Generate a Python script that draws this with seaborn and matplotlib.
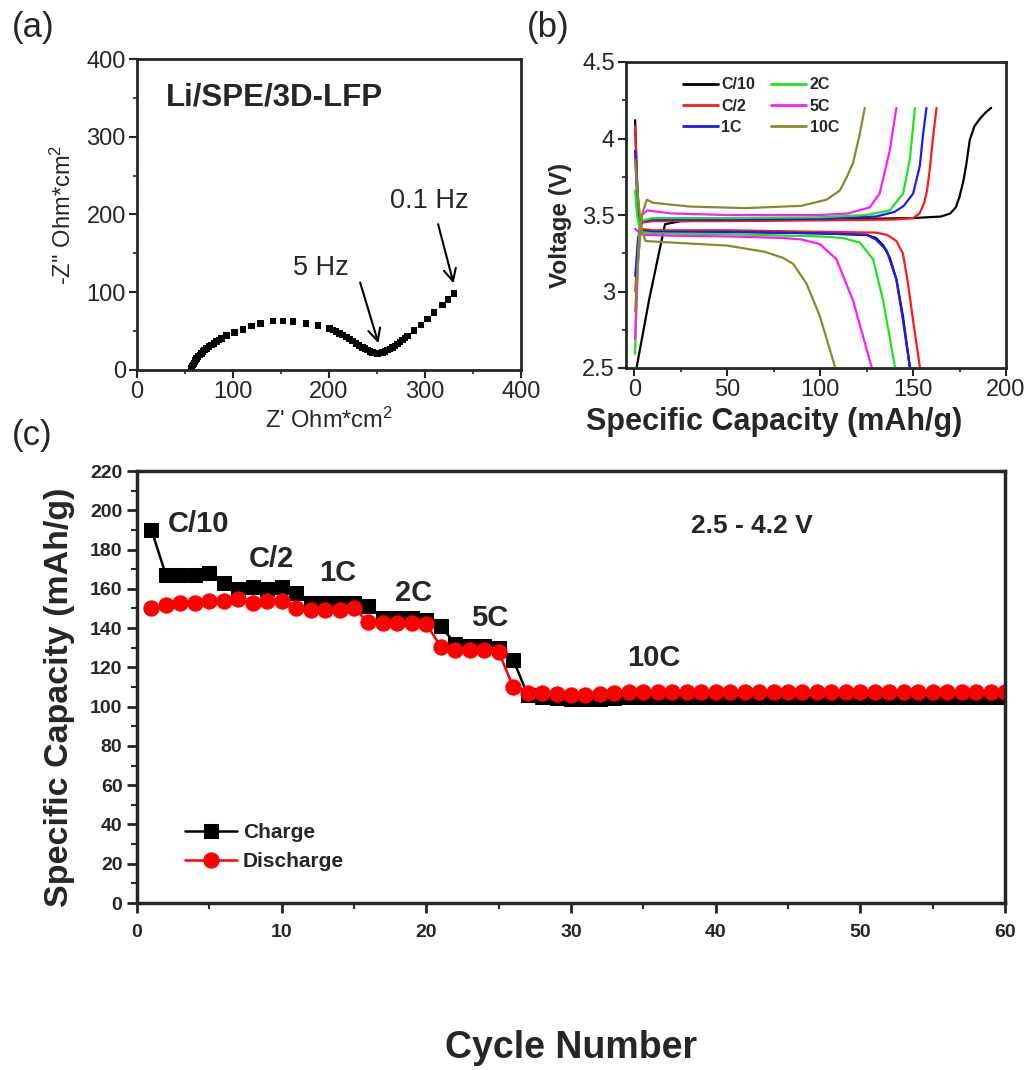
import matplotlib
matplotlib.use('Agg')
import matplotlib.pyplot as plt
import seaborn as sns
import pandas as pd
from matplotlib.ticker import MultipleLocator, FormatStrFormatter
from matplotlib.lines import Line2D

# ---------------- Panel (a): Nyquist plot ----------------
z_real = [56.8, 57.5, 58.5, 59.3, 60.2, 61.0, 62.0, 63.5, 65.4, 67.0, 68.9, 70.5,
          72.3, 74.8, 77.5, 80.0, 82.7, 85.2, 87.9, 93.1, 101.8, 110.4, 119.1,
          128.8, 141.6, 151.9, 162.3, 176.2, 188.3, 200.4, 204.0, 207.3, 211.0,
          214.2, 218.0, 221.2, 224.5, 228.1, 231.5, 235.0, 237.5, 240.2, 242.8,
          245.4, 248.0, 250.6, 253.2, 255.8, 258.4, 261.0, 263.6, 266.2, 268.8,
          271.4, 274.0, 276.6, 279.2, 281.8, 288.7, 295.6, 302.5, 309.5, 318.1,
          324.0, 330.0]
z_imag = [2.1, 4.2, 6.4, 8.5, 10.7, 12.8, 15.0, 17.2, 19.3, 21.5, 23.6, 25.8,
          27.9, 30.0, 32.2, 34.4, 36.5, 38.7, 40.8, 44.2, 48.0, 52.3, 56.6,
          60.1, 63.1, 63.1, 62.2, 60.1, 57.5, 53.6, 51.5, 49.3, 47.2,
          45.0, 42.5, 39.9, 37.0, 34.3, 31.7, 29.2, 27.4, 25.7, 23.9,
          22.3, 21.6, 21.4, 21.6, 22.3, 23.8, 25.7, 27.1, 28.7, 31.1,
          33.5, 36.0, 38.6, 41.2, 43.8, 50.6, 57.9, 65.6, 73.8, 83.7,
          91.0, 98.7]

# ---------------- Panel (b): voltage profiles ----------------
rates = ['C/10', 'C/2', '1C', '2C', '5C', '10C']
rate_colors = ['#000000', '#ff1a1a', '#1a1aff', '#19e619', '#ff19ff', '#8a8a2a']

chg_x = {
    'C/10': [1.3, 8, 16.5, 25, 50, 100, 150, 165, 170, 173, 175, 177, 178.5, 180.5, 183, 186, 189, 192],
    'C/2': [0.5, 2, 4, 10, 50, 100, 140, 150, 153.5, 156, 157.5, 159, 160.5, 162.6],
    '1C': [0.5, 2, 4, 10, 50, 100, 130, 140, 145, 150, 153.6, 155.4, 157.2],
    '2C': [0.4, 1.5, 3, 10, 50, 100, 125, 137.4, 144.6, 148.2, 151],
    '5C': [0.4, 2, 4, 7, 20, 50, 100, 115, 126.7, 132, 137.4, 141],
    '10C': [0.4, 2, 4, 6.7, 10, 30, 60, 90, 103.4, 110.6, 114, 117.7, 121.3, 124],
}
chg_v = {
    'C/10': [2.51, 2.95, 3.44, 3.46, 3.465, 3.47, 3.48, 3.49, 3.51, 3.55, 3.62, 3.72, 3.82, 3.99, 4.08, 4.13, 4.17, 4.2],
    'C/2': [3.0, 3.3, 3.45, 3.46, 3.46, 3.465, 3.47, 3.48, 3.51, 3.58, 3.66, 3.8, 3.98, 4.2],
    '1C': [3.1, 3.35, 3.46, 3.47, 3.47, 3.475, 3.49, 3.52, 3.56, 3.64, 3.82, 4.03, 4.2],
    '2C': [2.59, 3.1, 3.46, 3.48, 3.48, 3.485, 3.5, 3.53, 3.64, 3.86, 4.2],
    '5C': [2.69, 3.2, 3.5, 3.53, 3.51, 3.5, 3.5, 3.51, 3.55, 3.64, 3.92, 4.2],
    '10C': [2.87, 3.2, 3.5, 3.6, 3.58, 3.555, 3.545, 3.56, 3.6, 3.66, 3.74, 3.84, 4.03, 4.2],
}
dis_x = {
    'C/10': [0.4, 1.5, 3, 10, 50, 100, 125, 130, 134, 137.5, 141, 144.5, 148.2],
    'C/2': [0.4, 1.5, 3, 10, 50, 100, 130, 136, 141, 144.5, 147.3, 150, 153.6],
    '1C': [0.4, 1.5, 3, 10, 50, 100, 125, 130, 135.7, 141, 144.6, 148.2],
    '2C': [0.4, 1.5, 3, 10, 50, 100, 112, 121.3, 128.5, 133.9, 140.2],
    '5C': [0.4, 3, 6, 20, 50, 80, 90, 99.8, 108.8, 117.7, 127.6],
    '10C': [0.4, 2, 4, 6, 20, 50, 70, 80, 85.5, 92.7, 99.8, 107.9],
}
dis_v = {
    'C/10': [4.12, 3.7, 3.40, 3.39, 3.39, 3.38, 3.37, 3.35, 3.3, 3.22, 3.08, 2.84, 2.51],
    'C/2': [4.08, 3.7, 3.41, 3.40, 3.40, 3.39, 3.385, 3.37, 3.33, 3.25, 3.05, 2.81, 2.51],
    '1C': [3.92, 3.6, 3.40, 3.39, 3.39, 3.38, 3.37, 3.34, 3.27, 3.08, 2.81, 2.51],
    '2C': [3.66, 3.5, 3.39, 3.38, 3.375, 3.36, 3.35, 3.32, 3.21, 2.94, 2.51],
    '5C': [3.41, 3.38, 3.37, 3.365, 3.36, 3.35, 3.34, 3.31, 3.21, 2.94, 2.51],
    '10C': [3.86, 3.6, 3.4, 3.33, 3.32, 3.3, 3.26, 3.22, 3.18, 3.05, 2.84, 2.51],
}

# ---------------- Panel (c): rate capability ----------------
cycles = list(range(1, 61))
charge = [190, 167, 167, 167, 168, 163, 160, 161, 160, 161,
          158, 153, 153, 153, 153, 151, 145, 145, 145, 144,
          141, 132, 131, 131, 130, 124, 106, 105, 104.5, 104,
          104, 104, 104.5, 105, 105, 105, 105, 105, 105, 105,
          105, 105, 105, 105, 105, 105, 105, 105, 105, 105,
          105, 105, 105, 105, 105, 105, 105, 105, 105, 105]
discharge = [150, 152, 153, 153, 154, 154, 155, 153, 154, 154,
             150, 149, 149, 149, 150, 143, 142.5, 142.5, 142.5, 142,
             130.5, 129, 129, 129, 128, 110, 107, 107, 106.5, 106,
             106, 106.5, 107, 107.5, 107.5, 107.5, 107.5, 107.5, 107.5, 107.5,
             107.5, 107.5, 107.5, 107.5, 107.5, 107.5, 107.5, 107.5, 107.5, 107.5,
             107.5, 107.5, 107.5, 107.5, 107.5, 107.5, 107.5, 107.5, 107.5, 107.5]
rate_labels = ['C/10', 'C/2', '1C', '2C', '5C', '10C', '2.5 - 4.2 V']
rate_label_x = [2.1, 9.3, 13.9, 19.1, 24.4, 35.7, 38.3]
rate_label_y = [193, 175, 168, 158, 145, 125, 192]

# ---------------- Style ----------------
sns.set_style('ticks')
plt.rcParams['font.family'] = ['Liberation Sans', 'DejaVu Sans']
plt.rcParams['mathtext.default'] = 'regular'

fig = plt.figure(figsize=(10.32, 10.70), dpi=100)
W, H = 1032, 1070

def ax_at(x0, y0, x1, y1):
    return fig.add_axes([x0 / W, 1 - y1 / H, (x1 - x0) / W, (y1 - y0) / H])

axa = ax_at(137, 59, 521, 370)
axb = ax_at(626, 62, 1006, 368)
axc = ax_at(137, 471, 1005, 903)

# ---- (a)
dfa = pd.DataFrame({'zr': z_real, 'zi': z_imag})
sns.scatterplot(data=dfa, x='zr', y='zi', ax=axa, marker='s', s=22,
                color='black', edgecolor='none', linewidth=0)
axa.set_xlim(0, 400)
axa.set_ylim(0, 400)
axa.xaxis.set_major_locator(MultipleLocator(100))
axa.yaxis.set_major_locator(MultipleLocator(100))
axa.xaxis.set_minor_locator(MultipleLocator(50))
axa.yaxis.set_minor_locator(MultipleLocator(50))
axa.tick_params(which='major', direction='out', length=6, width=1.5, labelsize=17, pad=2)
axa.tick_params(which='minor', direction='out', length=3, width=1.2)
for s in axa.spines.values():
    s.set_linewidth(2)
axa.set_xlabel("Z' Ohm*cm$^2$", fontsize=17, labelpad=3)
axa.set_ylabel("-Z'' Ohm*cm$^2$", fontsize=17, labelpad=8)
axa.text(30, 351, 'Li/SPE/3D-LFP', fontsize=22.5, fontweight='bold', va='center', ha='left')
axa.text(192, 131, '5 Hz', fontsize=19.5, ha='center', va='center')
axa.text(304, 217, '0.1 Hz', fontsize=19.5, ha='center', va='center')
arrow_kw = dict(arrowstyle='->', lw=1.5, color='black', mutation_scale=22)
axa.annotate('', xy=(252.3, 31), xytext=(231.6, 116), arrowprops=arrow_kw)
axa.annotate('', xy=(330.5, 108), xytext=(312.9, 191), arrowprops=arrow_kw)

# ---- (b)
handles = []
for r, c in zip(rates, rate_colors):
    dfc = pd.DataFrame({'cap': chg_x[r], 'v': chg_v[r]})
    dfd = pd.DataFrame({'cap': dis_x[r], 'v': dis_v[r]})
    sns.lineplot(data=dfc, x='cap', y='v', ax=axb, color=c, lw=1.6, sort=False, estimator=None)
    sns.lineplot(data=dfd, x='cap', y='v', ax=axb, color=c, lw=1.6, sort=False, estimator=None)
    handles.append(Line2D([0], [0], color=c, lw=2))
axb.set_xlim(-4.5, 200)
axb.set_ylim(2.5, 4.5)
axb.xaxis.set_major_locator(MultipleLocator(50))
axb.xaxis.set_minor_locator(MultipleLocator(25))
axb.yaxis.set_major_locator(MultipleLocator(0.5))
axb.yaxis.set_minor_locator(MultipleLocator(0.25))
axb.yaxis.set_major_formatter(FormatStrFormatter('%g'))
axb.tick_params(which='major', direction='out', length=6, width=1.5, labelsize=17, pad=2)
axb.tick_params(which='minor', direction='out', length=3, width=1.2)
for s in axb.spines.values():
    s.set_linewidth(2)
axb.set_xlabel('Specific Capacity (mAh/g)', fontsize=22, fontweight='bold')
axb.xaxis.set_label_coords(0.39, -0.127)
axb.set_ylabel('Voltage (V)', fontsize=17.5, fontweight='bold')
axb.yaxis.set_label_coords(-0.142, 0.467)
axb.legend(handles, rates, ncol=2, loc='upper left', bbox_to_anchor=(0.15, 0.95),
           frameon=False, prop={'weight': 'bold', 'size': 11.5}, handlelength=2.2,
           columnspacing=1.0, labelspacing=0.4, borderpad=0, borderaxespad=0, handletextpad=0.2)

# ---- (c)
sns.lineplot(x=cycles, y=charge, ax=axc, color='black', lw=1.8, marker='s',
             markersize=10, markeredgecolor='black', markerfacecolor='black', label='Charge')
sns.lineplot(x=cycles, y=discharge, ax=axc, color='#ff0000', lw=1.8, marker='o',
             markersize=11, markeredgecolor='#ff0000', markerfacecolor='#ff0000', label='Discharge')
axc.set_xlim(0, 60)
axc.set_ylim(0, 220)
axc.xaxis.set_major_locator(MultipleLocator(10))
axc.xaxis.set_minor_locator(MultipleLocator(5))
axc.yaxis.set_major_locator(MultipleLocator(20))
axc.yaxis.set_minor_locator(MultipleLocator(10))
axc.tick_params(which='major', direction='out', length=7, width=2, labelsize=14)
axc.tick_params(axis='x', which='major', pad=8)
axc.tick_params(which='minor', direction='out', length=4, width=1.5)
for lab in axc.get_xticklabels() + axc.get_yticklabels():
    lab.set_fontweight('bold')
for s in axc.spines.values():
    s.set_linewidth(2.5)
axc.set_xlabel('Cycle Number', fontsize=27, fontweight='bold', labelpad=64)
axc.set_ylabel('Specific Capacity (mAh/g)', fontsize=24.5, fontweight='bold')
axc.yaxis.set_label_coords(-0.072, 0.477)
for t, x, y in zip(rate_labels, rate_label_x, rate_label_y):
    fs = 19 if t.startswith('2.5') else 21
    axc.text(x, y, t, fontsize=fs, fontweight='bold',
             ha='left' if t in ('C/10', '2.5 - 4.2 V') else 'center', va='center')
axc.legend(loc='upper left', bbox_to_anchor=(0.055, 0.185), frameon=False,
           prop={'weight': 'bold', 'size': 15}, handlelength=2.5, borderpad=0,
           borderaxespad=0, labelspacing=0.5, handletextpad=0.3)

# panel labels
fig.text(12 / W, 1 - 27 / H, '(a)', fontsize=25, va='center', ha='left')
fig.text(527 / W, 1 - 27 / H, '(b)', fontsize=25, va='center', ha='left')
fig.text(12 / W, 1 - 435 / H, '(c)', fontsize=25, va='center', ha='left')

fig.savefig('out.png', dpi=100)
